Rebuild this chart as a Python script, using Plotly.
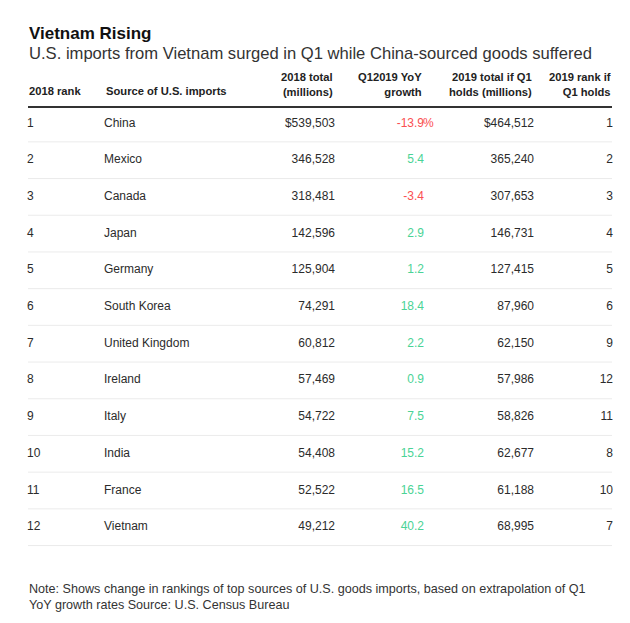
import plotly.graph_objects as go

# ---------------- data ----------------
rank_2018 = ["1", "2", "3", "4", "5", "6", "7", "8", "9", "10", "11", "12"]
sources = ["China", "Mexico", "Canada", "Japan", "Germany", "South Korea",
           "United Kingdom", "Ireland", "Italy", "India", "France", "Vietnam"]
total_2018 = ["$539,503", "346,528", "318,481", "142,596", "125,904", "74,291",
              "60,812", "57,469", "54,722", "54,408", "52,522", "49,212"]
yoy_growth = [-13.9, 5.4, -3.4, 2.9, 1.2, 18.4, 2.2, 0.9, 7.5, 15.2, 16.5, 40.2]
total_2019 = ["$464,512", "365,240", "307,653", "146,731", "127,415", "87,960",
              "62,150", "57,986", "58,826", "62,677", "61,188", "68,995"]
rank_2019 = ["1", "2", "3", "4", "5", "6", "9", "12", "11", "8", "10", "7"]

headers = ["2018 rank", "Source of U.S. imports", "2018 total<br>(millions)",
           "Q12019 YoY<br>growth", "2019 total if Q1<br>holds (millions)",
           "2019 rank if<br>Q1 holds"]

title = "Vietnam Rising"
subtitle = "U.S. imports from Vietnam surged in Q1 while China-sourced goods suffered"
note = ("Note: Shows change in rankings of top sources of U.S. goods imports, based on extrapolation of Q1<br>"
        "YoY growth rates Source: U.S. Census Bureau")

# ---------------- layout constants ----------------
W, H = 630, 623
FONT = "Liberation Sans, Arial, sans-serif"
TXT = "#2b2b2b"
GREEN = "#4ad396"
RED = "#fa4f52"
ROW_PX = 36.7          # pixel height of one row
FIRST_ROW_PX = 123.5   # pixel centre of first row
LEFT, RIGHT = 28, 612

# column anchors (x in pixels): (x, align)
col_x = [28, 105, 334, 423, 533, 612]
col_align = ["left", "left", "right", "right", "right", "right"]

n = len(sources)
rows = list(range(n))
y_top = -FIRST_ROW_PX / ROW_PX
y_bot = y_top + H / ROW_PX


def px2paper(py):
    return 1 - py / H


fig = go.Figure()

# row separators
for i in rows:
    fig.add_trace(go.Scatter(x=[LEFT, RIGHT], y=[i + 0.5, i + 0.5], mode="lines",
                             line=dict(color="#ebebeb", width=1),
                             hoverinfo="skip", showlegend=False))
# header rule
hdr_y = (107 - FIRST_ROW_PX) / ROW_PX
fig.add_trace(go.Scatter(x=[LEFT, RIGHT], y=[hdr_y, hdr_y], mode="lines",
                         line=dict(color="#333333", width=2),
                         hoverinfo="skip", showlegend=False))

yoy_text = [f"{v:.1f}" for v in yoy_growth]
yoy_suffix = ["%" if i == 0 else "" for i in rows]
yoy_color = [RED if v < 0 else GREEN for v in yoy_growth]

columns = [rank_2018, sources, total_2018, yoy_text, total_2019, rank_2019]
colors = [TXT, TXT, TXT, yoy_color, TXT, TXT]

for c, (vals, col) in enumerate(zip(columns, colors)):
    align = col_align[c]
    xoff = -1 if align == "left" else 1
    fig.add_trace(go.Scatter(
        x=[col_x[c] + xoff] * n, y=rows, mode="text", text=vals,
        textposition="middle right" if align == "left" else "middle left",
        textfont=dict(family=FONT, size=12, color=col),
        hoverinfo="skip", showlegend=False))

# hanging percent sign
fig.add_trace(go.Scatter(
    x=[col_x[3]] * n, y=rows, mode="text", text=yoy_suffix,
    textposition="middle right",
    textfont=dict(family=FONT, size=12, color=yoy_color),
    hoverinfo="skip", showlegend=False))

annotations = []
# title / subtitle
annotations.append(dict(text=f"<b>{title}</b>", x=LEFT - 1, y=px2paper(33),
                        xref="x", yref="paper", xanchor="left", yanchor="middle",
                        showarrow=False, font=dict(family=FONT, size=17, color="#111111")))
annotations.append(dict(text=subtitle, x=LEFT - 1, y=px2paper(53),
                        xref="x", yref="paper", xanchor="left", yanchor="middle",
                        showarrow=False, font=dict(family=FONT, size=16.6, color="#333333")))
# headers
for c, h in enumerate(headers):
    two = "<br>" in h
    annotations.append(dict(
        text=f"<b>{h}</b>", x=col_x[c] + (1 if col_align[c] == "right" else -1),
        y=px2paper(84 if two else 91),
        xref="x", yref="paper", xanchor=col_align[c], yanchor="middle",
        align=col_align[c], showarrow=False,
        font=dict(family=FONT, size=11.2, color="#222222")))
# note
annotations.append(dict(text=note, x=LEFT - 1, y=px2paper(597),
                        xref="x", yref="paper", xanchor="left", yanchor="middle",
                        align="left", showarrow=False,
                        font=dict(family=FONT, size=12.6, color="#333333")))

fig.update_layout(
    width=W, height=H, margin=dict(l=0, r=0, t=0, b=0),
    paper_bgcolor="white", plot_bgcolor="white",
    xaxis=dict(range=[0, W], visible=False, fixedrange=True),
    yaxis=dict(range=[y_bot, y_top], visible=False, fixedrange=True),
    annotations=annotations,
)

fig.write_html("out.html", config={"displayModeBar": False},
               post_script="document.body.style.margin='0';")
